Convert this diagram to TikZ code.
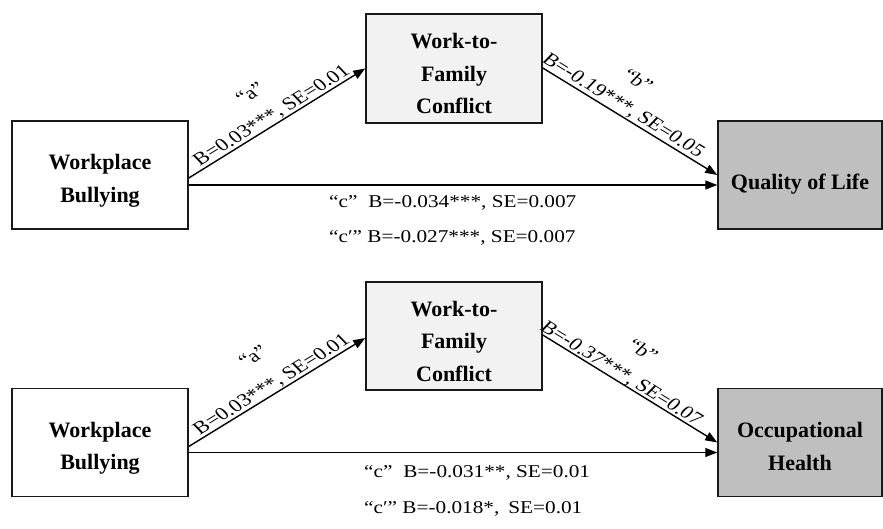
\documentclass[tikz,border=0pt]{standalone}
\usepackage{fontspec}
\setmainfont{Liberation Serif}
\newfontfamily\lblfont[FakeStretch=1.18]{Liberation Serif}
\usetikzlibrary{arrows.meta,calc}
\tikzset{
  box/.style={draw=black!90, line width=1.5pt, minimum width=176pt, minimum height=108pt,
    inner sep=0pt},
  boxt/.style 2 args={label={[font=\bfseries\fontsize{22}{32.5}\selectfont, align=center,
    inner sep=0pt, yshift=-#1pt]center:#2}},
  medbox/.style={fill=black!5},
  outbox/.style={fill=black!25, minimum width=164pt},
  arr/.style={-{Triangle[length=12pt,width=9pt]}, line width=1.4pt},
  clbl/.style={font=\lblfont\fontsize{18}{20}\selectfont, inner sep=0pt, anchor=west},
  slbl/.style={font=\fontsize{18}{20}\selectfont, inner sep=0pt, transform shape}
}
\begin{document}
\begin{tikzpicture}[x=1pt,y=-1pt]
\useasboundingbox (0,0) rectangle (883,529);
% ---------- top panel ----------
\node[box, boxt={6}{Workplace\\Bullying}] (wb1) at (100,175) {};
\node[box, medbox, minimum height=109pt, boxt={5}{Work-to-\\Family\\Conflict}] (wfc1) at (454,68.5) {};
\node[box, outbox, boxt={9}{Quality of Life}] (qol) at (800,175) {};
\draw[arr] ($(wb1.east)+(0,3)$) -- (wfc1.west);
\draw[arr] ($(wfc1.east)+(0,-0.5)$) -- (qol.west);
\draw[arr] ($(wb1.east)+(0,10)$) -- ($(qol.west)+(0,10)$);
\begin{scope}[shift={(272,116)}, xscale=1.25, rotate=37.5]
  \node[slbl] (la1) at (0,0) {B=0.03***, SE=0.01};
\end{scope}
\begin{scope}[shift={(250,93)}, xscale=1.25, rotate=37.5]
  \node[slbl] (qa1) at (0,0) {“a”};
\end{scope}
\begin{scope}[shift={(623,106)}, xscale=1.25, rotate=-37.5]
  \node[slbl] (lb1) at (0,0) {B=-0.19***, SE=0.05};
\end{scope}
\begin{scope}[shift={(638,80)}, xscale=1.25, rotate=-37.5]
  \node[slbl] (qb1) at (0,0) {“b”};
\end{scope}
\node[clbl] (lc1) at (329,203) {“c”\hspace{0.6em}B=-0.034***, SE=0.007};
\node[clbl] (lcp1) at (329,238) {“c′” B=-0.027***, SE=0.007};
% ---------- bottom panel ----------
\node[box, boxt={6}{Workplace\\Bullying}] (wb2) at (100,442.5) {};
\node[box, medbox, boxt={5}{Work-to-\\Family\\Conflict}] (wfc2) at (454,336) {};
\node[box, outbox, boxt={4}{Occupational\\Health}] (oh) at (800,442.5) {};
\draw[arr] ($(wb2.east)+(0,4)$) -- ($(wfc2.west)+(0,2)$);
\draw[arr] ($(wfc2.east)+(0,-1)$) -- (oh.west);
\draw[arr] ($(wb2.east)+(0,10)$) -- ($(oh.west)+(0,10)$);
\begin{scope}[shift={(272,385)}, xscale=1.25, rotate=37.5]
  \node[slbl] (la2) at (0,0) {B=0.03***, SE=0.01};
\end{scope}
\begin{scope}[shift={(253,356)}, xscale=1.25, rotate=37.5]
  \node[slbl] (qa2) at (0,0) {“a”};
\end{scope}
\begin{scope}[shift={(621,374)}, xscale=1.25, rotate=-37.5]
  \node[slbl] (lb2) at (0,0) {B=-0.37***, SE=0.07};
\end{scope}
\begin{scope}[shift={(643,350)}, xscale=1.25, rotate=-37.5]
  \node[slbl] (qb2) at (0,0) {“b”};
\end{scope}
\node[clbl] (lc2) at (364,473) {“c”\hspace{0.6em}B=-0.031**, SE=0.01};
\node[clbl] (lcp2) at (364,509) {“c′” B=-0.018*,\hspace{0.5em}SE=0.01};
\end{tikzpicture}
\end{document}
